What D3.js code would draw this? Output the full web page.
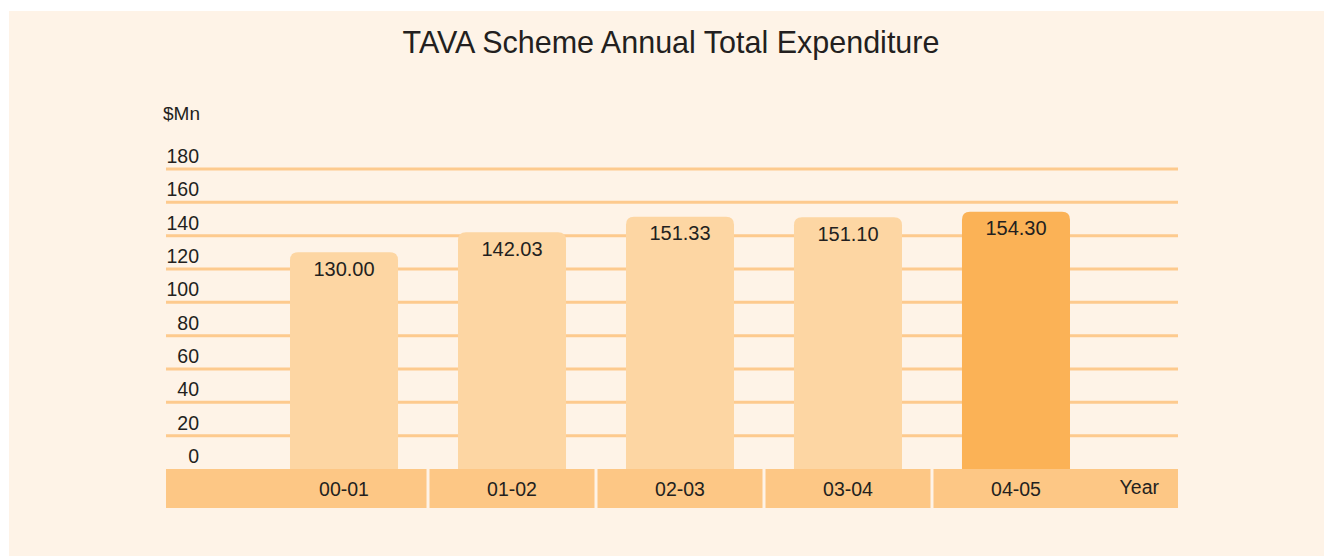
<!DOCTYPE html>
<html>
<head>
<meta charset="utf-8">
<script src="https://cdn.jsdelivr.net/npm/d3@7"></script>
<style>
  body { margin: 0; background: #fff; }
  svg { display: block; }
  text { font-family: "Liberation Sans", Arial, Helvetica, sans-serif; fill: #231f20; }
</style>
</head>
<body>
<div id="chart"></div>
<script>
// data
const years = ["00-01", "01-02", "02-03", "03-04", "04-05"];
const spending = [130.00, 142.03, 151.33, 151.10, 154.30];
const yTicks = [0, 20, 40, 60, 80, 100, 120, 140, 160, 180];

const width = 1324, height = 556;

let svg = d3.select("#chart")
    .append("svg")
    .attr("width", width)
    .attr("height", height);

// panel background
svg.append("rect")
    .attr("x", 9).attr("y", 11)
    .attr("width", width - 9).attr("height", height - 11)
    .style("fill", "#fef3e7");

// scales
let y = d3.scaleLinear().domain([0, 180]).range([469, 169]);
let x = d3.scaleBand()
    .domain(years)
    .range([260, 1100])
    .paddingInner(0.357)
    .paddingOuter(0.1786);

const gridLeft = 166, gridRight = 1178;

// title
svg.append("text")
    .attr("x", 671).attr("y", 53)
    .style("text-anchor", "middle")
    .style("font-size", "30.5px")
    .text("TAVA Scheme Annual Total Expenditure");

// unit label
svg.append("text")
    .attr("x", 163).attr("y", 120)
    .style("font-size", "19px")
    .text("$Mn");

// gridlines (0 line sits under the year band)
svg.selectAll(".grid")
    .data(yTicks.filter(d => d > 0))
    .enter()
    .append("line")
    .attr("x1", gridLeft).attr("x2", gridRight)
    .attr("y1", d => y(d)).attr("y2", d => y(d))
    .style("stroke", "#fdca8e")
    .style("stroke-width", 3);

// tick labels
svg.selectAll(".ylab")
    .data(yTicks)
    .enter()
    .append("text")
    .attr("x", 199)
    .attr("y", d => y(d) - 6)
    .style("text-anchor", "end")
    .style("font-size", "19.5px")
    .text(d => d);

// bars with rounded tops
const r = 8;
function barPath(d, i) {
    let x0 = x(years[i]), x1 = x0 + x.bandwidth();
    let top = y(d), bottom = y(0);
    return `M${x0},${bottom} V${top + r} Q${x0},${top} ${x0 + r},${top} H${x1 - r} Q${x1},${top} ${x1},${top + r} V${bottom} Z`;
}

svg.selectAll(".bar")
    .data(spending)
    .enter()
    .append("path")
    .attr("d", barPath)
    .style("fill", (d, i) => i === spending.length - 1 ? "#fbb256" : "#fdd6a3");

// value labels
svg.selectAll(".val")
    .data(spending)
    .enter()
    .append("text")
    .attr("x", (d, i) => x(years[i]) + x.bandwidth() / 2)
    .attr("y", d => y(d) + 23.5)
    .style("text-anchor", "middle")
    .style("font-size", "20px")
    .text(d => d.toFixed(2));

// year band segments
const half = x.step() / 2;
svg.selectAll(".seg")
    .data(years)
    .enter()
    .append("rect")
    .attr("x", (d, i) => i === 0 ? gridLeft : x(d) + x.bandwidth() / 2 - half + 1.5)
    .attr("width", (d, i) => {
        let c = x(d) + x.bandwidth() / 2;
        let left = i === 0 ? gridLeft : c - half + 1.5;
        let right = i === years.length - 1 ? gridRight : c + half - 1.5;
        return right - left;
    })
    .attr("y", y(0))
    .attr("height", 39)
    .style("fill", "#fdc785");

// year labels
svg.selectAll(".xlab")
    .data(years)
    .enter()
    .append("text")
    .attr("x", d => x(d) + x.bandwidth() / 2)
    .attr("y", 496)
    .style("text-anchor", "middle")
    .style("font-size", "19.5px")
    .text(d => d);

svg.append("text")
    .attr("x", 1159).attr("y", 494)
    .style("text-anchor", "end")
    .style("font-size", "19.5px")
    .text("Year");
</script>
</body>
</html>
